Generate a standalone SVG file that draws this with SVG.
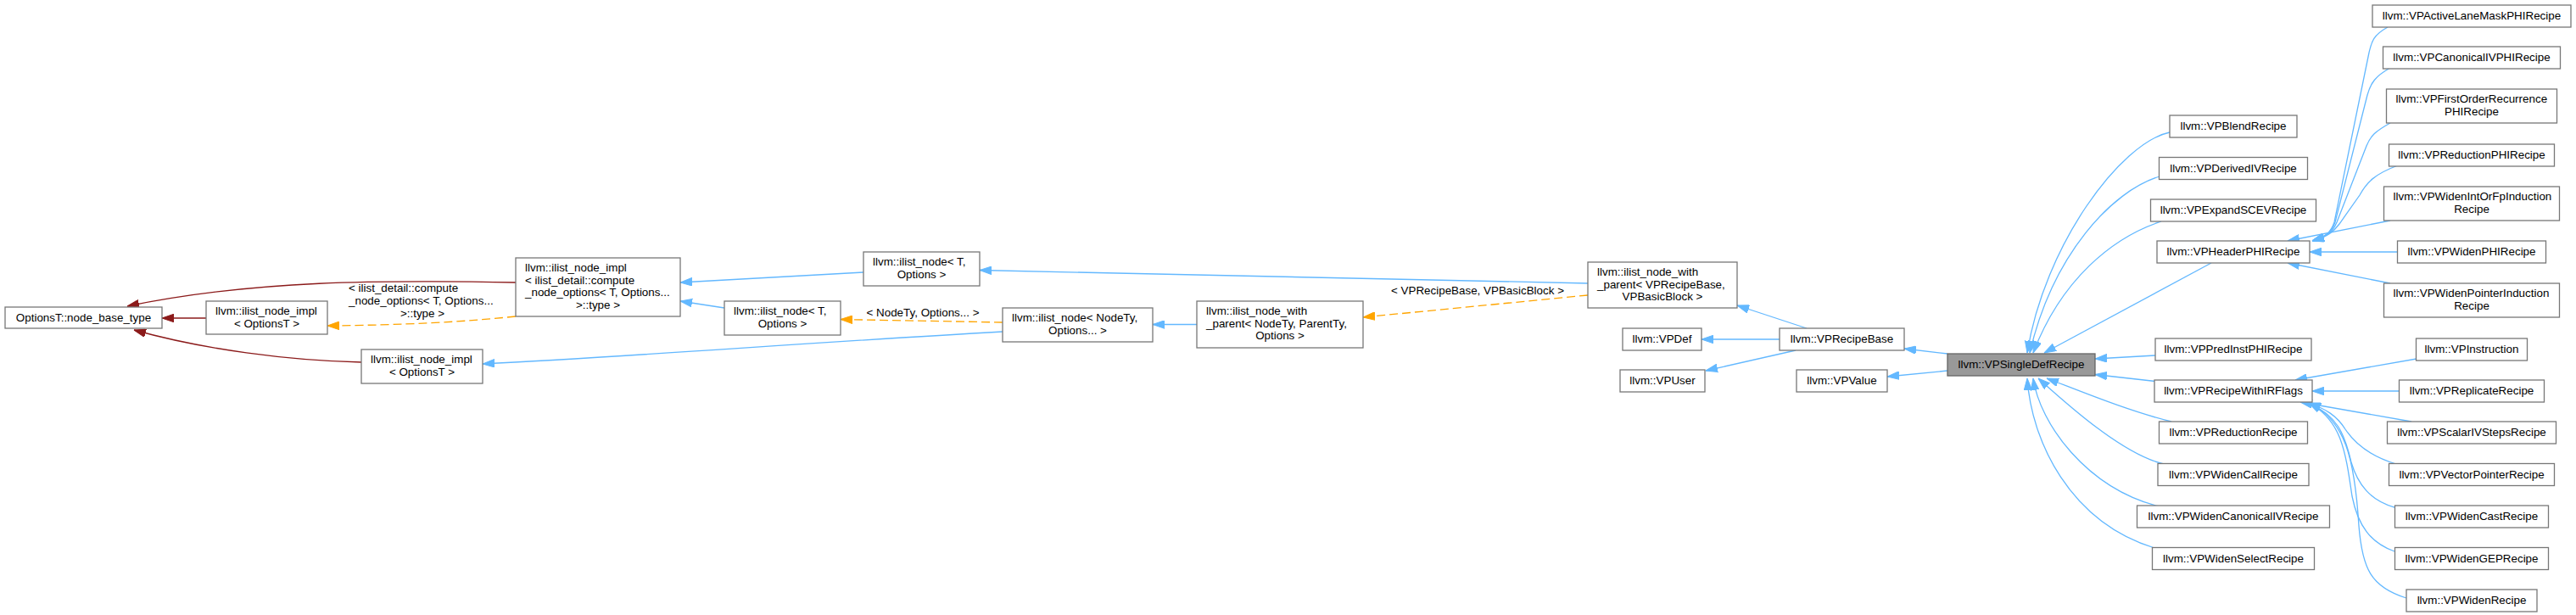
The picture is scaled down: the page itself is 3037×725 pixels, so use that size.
<svg xmlns="http://www.w3.org/2000/svg" width="3037" height="725" viewBox="0 0 3037 725">
<style>
.node rect{fill:#fff;stroke:#777;stroke-width:1.3}
.node text,.lbl{font-family:"Liberation Sans",Arial,Helvetica,sans-serif;font-size:13.4px;fill:#000}
.c{text-anchor:middle}
.e{fill:none;stroke-width:1.3}
.b{stroke:#63b8ff;marker-end:url(#ab)}
.r{stroke:#8b1a1a;marker-end:url(#ar)}
.o{stroke:#ffa500;stroke-dasharray:10 5;marker-end:url(#ao)}
#n_vpsingledef rect{fill:#999;stroke:#666}
</style>
<defs>
<marker id="ab" viewBox="0 -5 14 10" refX="14" refY="0" markerWidth="14" markerHeight="10" markerUnits="userSpaceOnUse" orient="auto"><path d="M0,-4.8L14,0L0,4.8z" fill="#63b8ff" stroke="#63b8ff" stroke-width="1"/></marker>
<marker id="ar" viewBox="0 -5 14 10" refX="14" refY="0" markerWidth="14" markerHeight="10" markerUnits="userSpaceOnUse" orient="auto"><path d="M0,-4.8L14,0L0,4.8z" fill="#8b1a1a" stroke="#8b1a1a" stroke-width="1"/></marker>
<marker id="ao" viewBox="0 -5 14 10" refX="14" refY="0" markerWidth="14" markerHeight="10" markerUnits="userSpaceOnUse" orient="auto"><path d="M0,-4.8L14,0L0,4.8z" fill="#ffa500" stroke="#ffa500" stroke-width="1"/></marker>
</defs>
<rect x="0" y="0" width="3037" height="725" fill="#fff"/>

<g id="connectors">
<path class="e r" d="M243,375L191,375"/>
<path class="e r" d="M608,333C450,330 300,330 150,361"/>
<path class="e r" d="M426,427C340,425 240,412 158,389"/>
<path class="e o" d="M608,373C540,380 480,383 386,384"/>
<path class="e b" d="M1018,321L802,333"/>
<path class="e b" d="M854,363L802,355"/>
<path class="e b" d="M1182,391C950,404 750,420 569,429"/>
<path class="e o" d="M1182,380L991,376.5"/>
<path class="e b" d="M1411,382.5L1359,382.5"/>
<path class="e o" d="M1872,348L1607,374"/>
<path class="e b" d="M1872,334L1155,318.5"/>
<path class="e b" d="M2130,387L2048,360"/>
<path class="e b" d="M2098,400L2006,400"/>
<path class="e b" d="M2117,413L2011,437"/>
<path class="e b" d="M2296,417L2245,411"/>
<path class="e b" d="M2296,437L2225,444"/>
<path class="e b" d="M2558,156C2500,168 2410,290 2390,416"/>
<path class="e b" d="M2546,208C2490,225 2420,300 2393,416"/>
<path class="e b" d="M2548,261C2490,280 2430,330 2397,416"/>
<path class="e b" d="M2607,310L2410,416"/>
<path class="e b" d="M2541,419L2470,423"/>
<path class="e b" d="M2541,449.5L2470,441.5"/>
<path class="e b" d="M2560,497C2510,485 2450,460 2413,446"/>
<path class="e b" d="M2551,547C2500,535 2430,470 2403,446"/>
<path class="e b" d="M2545,597C2460,575 2405,500 2397,446"/>
<path class="e b" d="M2540,646C2440,615 2395,520 2390,446"/>
<path class="e b" d="M2815,32C2797,42 2796,50 2793,62L2752,262C2748,274 2742,279 2726,284"/>
<path class="e b" d="M2818,80C2800,90 2795,98 2791,112L2753,262C2749,274 2742,279 2726,284"/>
<path class="e b" d="M2818,145C2800,155 2795,160 2790,172L2755,262C2750,274 2743,279 2726,284"/>
<path class="e b" d="M2827,195C2800,205 2790,215 2782,230L2758,264C2752,272 2745,279 2726,284"/>
<path class="e b" d="M2818,260L2697,284"/>
<path class="e b" d="M2827,297L2723,297"/>
<path class="e b" d="M2818,334L2697,310"/>
<path class="e b" d="M2849,423L2706,448"/>
<path class="e b" d="M2829,461L2726,461"/>
<path class="e b" d="M2843,497L2712,474"/>
<path class="e b" d="M2825,547C2795,538 2777,524 2765,506C2755,490 2742,482 2722,475"/>
<path class="e b" d="M2823,598C2795,590 2780,572 2772,545C2764,510 2755,490 2722,475"/>
<path class="e b" d="M2823,650C2795,640 2780,620 2773,585C2765,530 2760,495 2722,475"/>
<path class="e b" d="M2837,705C2795,692 2785,670 2781,620C2776,540 2765,495 2722,475"/>
<text class="lbl" x="411" y="344">&lt; ilist_detail::compute</text>
<text class="lbl" x="411" y="359">_node_options&lt; T, Options...</text>
<text class="lbl c" x="498" y="373.5">&gt;::type &gt;</text>
<text class="lbl c" x="1088" y="373">&lt; NodeTy, Options... &gt;</text>
<text class="lbl c" x="1742" y="347">&lt; VPRecipeBase, VPBasicBlock &gt;</text>
</g>

<g id="n_optbase" class="node"><rect x="6" y="362" width="185" height="25"/><text class="c" x="98.5" y="379">OptionsT::node_base_type</text></g>
<g id="n_impl_opt1" class="node"><rect x="243" y="355" width="143" height="39"/><text x="254" y="371">llvm::ilist_node_impl</text><text class="c" x="314.5" y="385.5">&lt; OptionsT &gt;</text></g>
<g id="n_impl_opt2" class="node"><rect x="426" y="412" width="143" height="40"/><text x="437" y="428">llvm::ilist_node_impl</text><text class="c" x="497.5" y="442.5">&lt; OptionsT &gt;</text></g>
<g id="n_impl_detail" class="node"><rect x="608" y="304" width="194" height="69"/><text x="619" y="320">llvm::ilist_node_impl</text><text x="619" y="334.5">&lt; ilist_detail::compute</text><text x="619" y="349">_node_options&lt; T, Options...</text><text class="c" x="705" y="363.5">&gt;::type &gt;</text></g>
<g id="n_node_T1" class="node"><rect x="1018" y="297" width="137" height="40"/><text x="1029" y="313">llvm::ilist_node&lt; T,</text><text class="c" x="1086.5" y="327.5">Options &gt;</text></g>
<g id="n_node_T2" class="node"><rect x="854" y="355" width="137" height="40"/><text x="865" y="371">llvm::ilist_node&lt; T,</text><text class="c" x="922.5" y="385.5">Options &gt;</text></g>
<g id="n_node_NodeTy" class="node"><rect x="1182" y="363" width="177" height="40"/><text x="1193" y="379">llvm::ilist_node&lt; NodeTy,</text><text class="c" x="1270.5" y="393.5">Options... &gt;</text></g>
<g id="n_nwp_generic" class="node"><rect x="1411" y="355" width="196" height="55"/><text x="1422" y="371">llvm::ilist_node_with</text><text x="1422" y="385.5">_parent&lt; NodeTy, ParentTy,</text><text class="c" x="1509" y="400">Options &gt;</text></g>
<g id="n_nwp_vp" class="node"><rect x="1872" y="309" width="176" height="54"/><text x="1883" y="325">llvm::ilist_node_with</text><text x="1883" y="339.5">_parent&lt; VPRecipeBase,</text><text class="c" x="1960" y="354">VPBasicBlock &gt;</text></g>
<g id="n_vpdef" class="node"><rect x="1913" y="387" width="93" height="26"/><text class="c" x="1959.5" y="404">llvm::VPDef</text></g>
<g id="n_vprecipebase" class="node"><rect x="2098" y="387" width="147" height="26"/><text class="c" x="2171.5" y="404">llvm::VPRecipeBase</text></g>
<g id="n_vpuser" class="node"><rect x="1910" y="436" width="100" height="26"/><text class="c" x="1960" y="453">llvm::VPUser</text></g>
<g id="n_vpvalue" class="node"><rect x="2118" y="436" width="107" height="26"/><text class="c" x="2171.5" y="453">llvm::VPValue</text></g>
<g id="n_vpsingledef" class="node"><rect x="2296" y="417" width="174" height="26"/><text class="c" x="2383" y="434">llvm::VPSingleDefRecipe</text></g>

<g id="n_blend" class="node"><rect x="2558" y="136" width="150" height="26"/><text class="c" x="2633" y="153">llvm::VPBlendRecipe</text></g>
<g id="n_derivediv" class="node"><rect x="2545.5" y="185.5" width="175" height="26"/><text class="c" x="2633" y="202.5">llvm::VPDerivedIVRecipe</text></g>
<g id="n_expandscev" class="node"><rect x="2535.5" y="235" width="195" height="26"/><text class="c" x="2633" y="252">llvm::VPExpandSCEVRecipe</text></g>
<g id="n_headerphi" class="node"><rect x="2543" y="284" width="180" height="26"/><text class="c" x="2633" y="301">llvm::VPHeaderPHIRecipe</text></g>
<g id="n_predinstphi" class="node"><rect x="2541" y="399" width="184" height="26"/><text class="c" x="2633" y="416">llvm::VPPredInstPHIRecipe</text></g>
<g id="n_withirflags" class="node"><rect x="2540" y="448" width="186" height="26"/><text class="c" x="2633" y="465">llvm::VPRecipeWithIRFlags</text></g>
<g id="n_reduction" class="node"><rect x="2545.5" y="497" width="175" height="26"/><text class="c" x="2633" y="514">llvm::VPReductionRecipe</text></g>
<g id="n_widencall" class="node"><rect x="2544" y="546.5" width="178" height="26"/><text class="c" x="2633" y="563.5">llvm::VPWidenCallRecipe</text></g>
<g id="n_widencaniv" class="node"><rect x="2519.5" y="596" width="227" height="26"/><text class="c" x="2633" y="613">llvm::VPWidenCanonicalIVRecipe</text></g>
<g id="n_widenselect" class="node"><rect x="2537.5" y="645.5" width="191" height="26"/><text class="c" x="2633" y="662.5">llvm::VPWidenSelectRecipe</text></g>

<g id="n_activelane" class="node"><rect x="2797" y="6" width="234" height="26"/><text class="c" x="2914" y="23">llvm::VPActiveLaneMaskPHIRecipe</text></g>
<g id="n_canonicalivphi" class="node"><rect x="2809.5" y="55" width="209" height="26"/><text class="c" x="2914" y="72">llvm::VPCanonicalIVPHIRecipe</text></g>
<g id="n_firstorder" class="node"><rect x="2813.5" y="105" width="201" height="40"/><text x="2824.5" y="121">llvm::VPFirstOrderRecurrence</text><text class="c" x="2914" y="135.5">PHIRecipe</text></g>
<g id="n_reductionphi" class="node"><rect x="2816.5" y="170" width="195" height="26"/><text class="c" x="2914" y="187">llvm::VPReductionPHIRecipe</text></g>
<g id="n_intorfp" class="node"><rect x="2810.5" y="220" width="207" height="40"/><text x="2821.5" y="236">llvm::VPWidenIntOrFpInduction</text><text class="c" x="2914" y="250.5">Recipe</text></g>
<g id="n_widenphi" class="node"><rect x="2826.5" y="284" width="175" height="26"/><text class="c" x="2914" y="301">llvm::VPWidenPHIRecipe</text></g>
<g id="n_widenptr" class="node"><rect x="2810.5" y="334" width="207" height="40"/><text x="2821.5" y="350">llvm::VPWidenPointerInduction</text><text class="c" x="2914" y="364.5">Recipe</text></g>
<g id="n_instruction" class="node"><rect x="2848.5" y="399" width="131" height="26"/><text class="c" x="2914" y="416">llvm::VPInstruction</text></g>
<g id="n_replicate" class="node"><rect x="2828.5" y="448" width="171" height="26"/><text class="c" x="2914" y="465">llvm::VPReplicateRecipe</text></g>
<g id="n_scalarivsteps" class="node"><rect x="2814.5" y="497" width="199" height="26"/><text class="c" x="2914" y="514">llvm::VPScalarIVStepsRecipe</text></g>
<g id="n_vectorptr" class="node"><rect x="2816.5" y="546.5" width="195" height="26"/><text class="c" x="2914" y="563.5">llvm::VPVectorPointerRecipe</text></g>
<g id="n_widencast" class="node"><rect x="2823.5" y="596" width="181" height="26"/><text class="c" x="2914" y="613">llvm::VPWidenCastRecipe</text></g>
<g id="n_widengep" class="node"><rect x="2823.5" y="645.5" width="181" height="26"/><text class="c" x="2914" y="662.5">llvm::VPWidenGEPRecipe</text></g>
<g id="n_widen" class="node"><rect x="2837" y="695" width="154" height="26"/><text class="c" x="2914" y="712">llvm::VPWidenRecipe</text></g>
</svg>
